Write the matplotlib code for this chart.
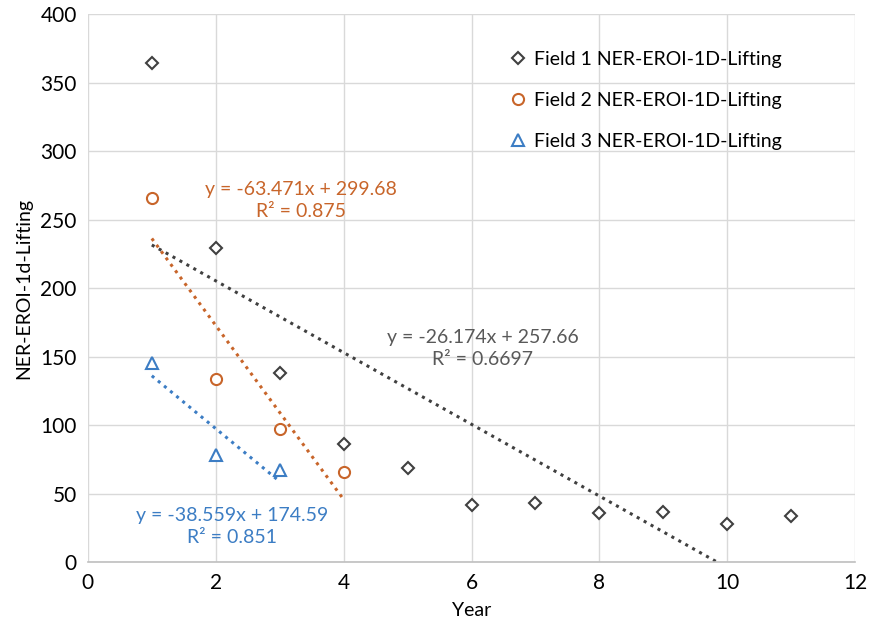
import matplotlib
matplotlib.use("Agg")
import matplotlib.pyplot as plt
import numpy as np

plt.rcParams["font.family"] = ["Lato", "DejaVu Sans"]

# data
years_f1 = [1, 2, 3, 4, 5, 6, 7, 8, 9, 10, 11]
eroi_f1 = [364, 229, 138, 86, 69, 42, 43, 36, 37, 28, 34]
years_f2 = [1, 2, 3, 4]
eroi_f2 = [266, 134, 97, 66]
years_f3 = [1, 2, 3]
eroi_f3 = [145, 78, 67]

# linear trendlines as printed on the chart (slope, intercept, r2)
fit_f1 = (-26.174, 257.66, "0.6697")
fit_f2 = (-63.471, 299.68, "0.875")
fit_f3 = (-38.559, 174.59, "0.851")

labels = ["Field 1 NER-EROI-1D-Lifting",
          "Field 2 NER-EROI-1D-Lifting",
          "Field 3 NER-EROI-1D-Lifting"]

c1 = "#404040"
c2 = "#C8652A"
c3 = "#3C7DC4"

fig = plt.figure(figsize=(8.7, 6.36), dpi=100)
ax = fig.add_axes([0.101, 0.116, 0.882, 0.862])

series = [
    (years_f1, eroi_f1, fit_f1, c1, "D", 6, labels[0]),
    (years_f2, eroi_f2, fit_f2, c2, "o", 8, labels[1]),
    (years_f3, eroi_f3, fit_f3, c3, "^", 8, labels[2]),
]
for xs, ys, fit, col, mk, ms, lab in series:
    ax.plot(xs, ys, linestyle="none", marker=mk, markersize=ms,
            markerfacecolor="white", markeredgecolor=col,
            markeredgewidth=1.5, label=lab, zorder=3)
    xl = np.array([min(xs), max(xs)], dtype=float)
    ax.plot(xl, fit[0] * xl + fit[1], linestyle=(0, (1, 1.6)),
            color=col, linewidth=2.2, zorder=2)

def eq_text(fit):
    return f"y = {fit[0]}x + {fit[1]}\nR² = {fit[2]}"

ax.text(6.17, 156, eq_text(fit_f1), color="#595959", fontsize=14,
        ha="center", va="center", linespacing=1.35)
ax.text(3.33, 264, eq_text(fit_f2), color=c2, fontsize=14,
        ha="center", va="center", linespacing=1.35)
ax.text(2.25, 26, eq_text(fit_f3), color=c3, fontsize=14,
        ha="center", va="center", linespacing=1.35)

ax.set_xlim(0, 12)
ax.set_ylim(0, 400)
ax.set_xticks(range(0, 13, 2))
ax.set_yticks(range(0, 401, 50))
ax.grid(True, color="#D9D9D9", linewidth=1)
ax.set_axisbelow(True)
for s in ["top", "right", "left"]:
    ax.spines[s].set_visible(False)
ax.spines["bottom"].set_color("#BFBFBF")
ax.spines["bottom"].set_linewidth(1.2)
ax.tick_params(length=0, labelsize=15, colors="#000000", pad=8)
ax.set_xlabel("Year", fontsize=14, labelpad=6)
ax.set_ylabel("NER-EROI-1d-Lifting", fontsize=14, labelpad=6)

ax.legend(loc="upper left", bbox_to_anchor=(0.525, 0.965), frameon=False,
          fontsize=14, handletextpad=0.35, labelspacing=1.25,
          handlelength=1.0)

fig.savefig("out.png", dpi=100)
